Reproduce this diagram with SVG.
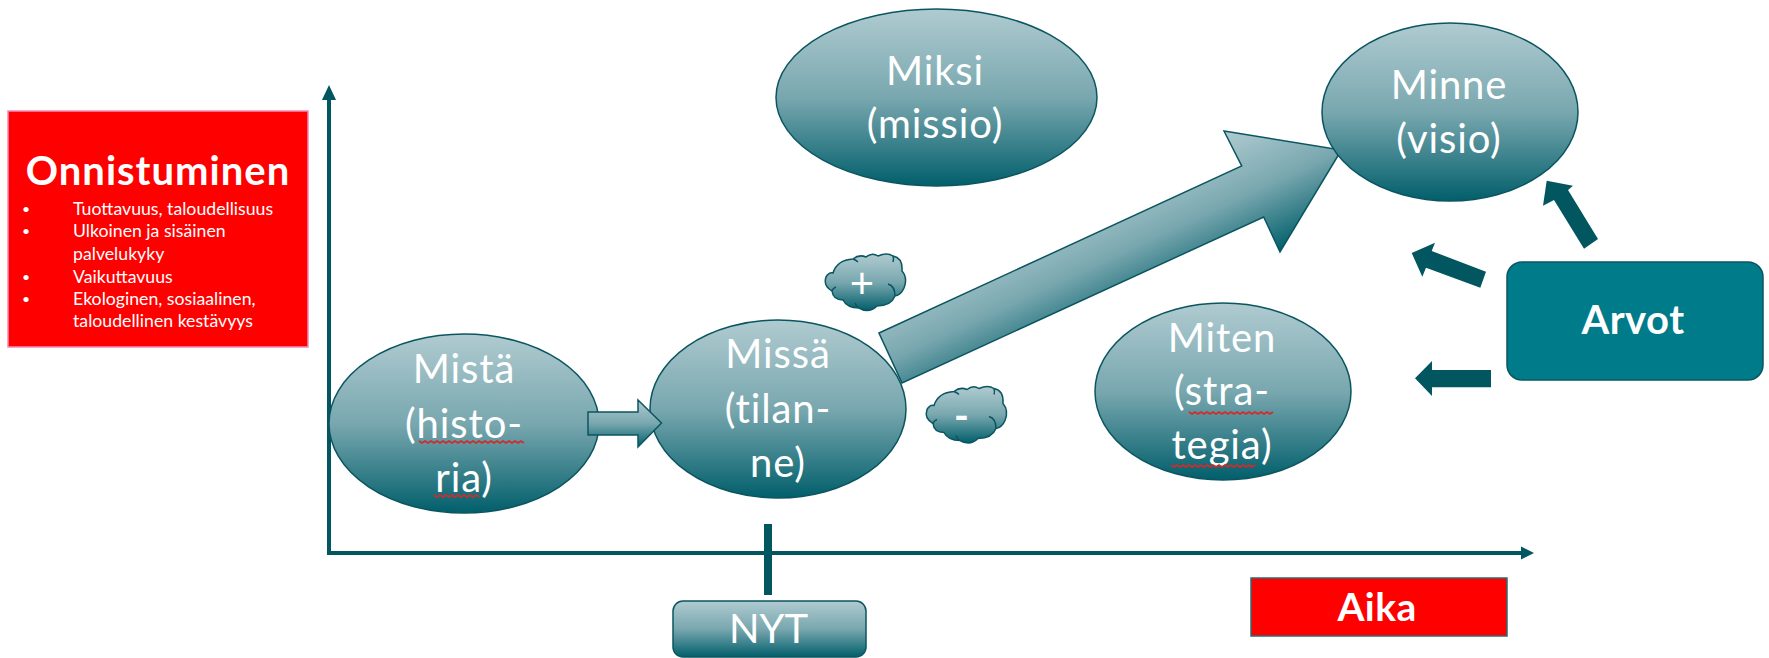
<svg xmlns="http://www.w3.org/2000/svg" width="1769" height="658" viewBox="0 0 1769 658">
<defs>
<linearGradient id="g" x1="0" y1="0" x2="0" y2="1"><stop offset="0" stop-color="#afcbd0"/><stop offset="0.5" stop-color="#79a7af"/><stop offset="1" stop-color="#015f6b"/></linearGradient>
<linearGradient id="gb" gradientUnits="userSpaceOnUse" x1="1224" y1="131" x2="1280" y2="252"><stop offset="0" stop-color="#afcbd0"/><stop offset="0.5" stop-color="#79a7af"/><stop offset="1" stop-color="#015f6b"/></linearGradient>
<g id="cloud"><path d="M1 23Q4 18 8 19Q12 6 28 5Q34 0 41 3Q47 -2 53 2Q62 -2 68 2Q78 4 77 17Q83 24 79 34Q76 41 70 42Q66 52 52 52Q44 60 34 54Q22 54 18 46Q8 46 7 37Q-2 32 1 23Z"/><path fill="none" d="M63 30Q70 32 70 42M7 37Q8 34 11 33M34 54Q31 52 30 49M68 2Q69 5 68 8M28 5Q31 6 33 8"/></g>
</defs>
<style>
.sh{fill:url(#g);stroke:#0b5560;stroke-width:1.5}
.t{font-family:Lato,"Liberation Sans",sans-serif;fill:#fff;text-anchor:middle}
.big{font-size:40px;letter-spacing:.9px}
.dark{fill:#02565f}
.ax{stroke:#02565f;stroke-width:4;fill:none}
.sq{stroke:#d42a2a;stroke-width:1.8;fill:none}
.wh{font-family:Lato,"Liberation Sans",sans-serif;fill:#fff;font-size:17.7px}
.bu{font-family:Lato,"Liberation Sans",sans-serif;fill:#fff;font-size:14px}
</style>
<rect width="1769" height="658" fill="#fff"/>
<g id="connectors">
<path class="ax" d="M329 98V553H1525"/>
<path class="dark" d="M329 85L336 100H322Z"/>
<path class="dark" d="M1534 553L1521 546.500V559.500Z"/>
<rect class="dark" x="764" y="524" width="8" height="71"/>
<path class="dark" d="M1546.700 180.700L1573 185.700L1568 190L1598 239L1584 248.700L1554 200L1543 205.700Z"/>
<path class="dark" d="M1411.700 253L1435 242.700L1431.700 251L1486 271.700L1480.300 287.700L1426 267.700L1422.300 276.700Z"/>
<path class="dark" d="M1415 378.300L1432 361V370H1491V387.300H1432V396Z"/>
</g>
<g id="onnistuminen">
<rect x="8" y="111" width="300" height="236" fill="#ff0000" stroke="#f08cb4" stroke-width="1.500"/>
<text x="158" y="185" class="t" font-weight="700" font-size="40" letter-spacing="1">Onnistuminen</text>
<text class="bu" x="22" y="214">•</text><text class="wh" x="73" y="215">Tuottavuus, taloudellisuus</text>
<text class="bu" x="22" y="236">•</text><text class="wh" x="73" y="237">Ulkoinen ja sisäinen</text>
<text class="wh" x="73" y="260">palvelukyky</text>
<text class="bu" x="22" y="282">•</text><text class="wh" x="73" y="283">Vaikuttavuus</text>
<text class="bu" x="22" y="304">•</text><text class="wh" x="73" y="305">Ekologinen, sosiaalinen,</text>
<text class="wh" x="73" y="327">taloudellinen kestävyys</text>
</g>
<g id="mista">
<ellipse class="sh" cx="464" cy="423.500" rx="135" ry="89.500"/>
<text class="t big" x="464" y="383">Mistä</text>
<text class="t big" x="464" y="438">(histo-</text>
<text class="t big" x="464" y="492">ria)</text>
<path class="sq" d="M419 441l3 2l3 -2l3 2l3 -2l3 2l3 -2l3 2l3 -2l3 2l3 -2l3 2l3 -2l3 2l3 -2l3 2l3 -2l3 2l3 -2l3 2l3 -2l3 2l3 -2l3 2l3 -2l3 2l3 -2l3 2l3 -2l3 2l3 -2l3 2l3 -2l3 2l3 -2l3 2"/>
<path class="sq" d="M434 495l3 2l3 -2l3 2l3 -2l3 2l3 -2l3 2l3 -2l3 2l3 -2l3 2l3 -2l3 2l3 -2l3 2"/>
</g>
<g id="missa">
<ellipse class="sh" cx="778" cy="409" rx="128" ry="89"/>
<text class="t big" x="778" y="368">Missä</text>
<text class="t big" x="778" y="423">(tilan-</text>
<text class="t big" x="778" y="477">ne)</text>
</g>
<g id="arrow-small"><path class="sh" d="M588 412H638V400L661.500 423L638 447V435H588Z"/></g>
<g id="miksi">
<ellipse class="sh" cx="936.500" cy="97.500" rx="160.500" ry="88.500"/>
<text class="t big" x="935" y="85">Miksi</text>
<text class="t big" x="935" y="138">(missio)</text>
</g>
<g id="arrow-big"><path fill="url(#gb)" stroke="#0b5560" stroke-width="1.500" d="M879 333L1241.700 166L1224 131L1341.400 150L1280 252L1263.700 217L902 383Z"/></g>
<g id="minne">
<ellipse class="sh" cx="1450" cy="112" rx="128" ry="89"/>
<text class="t big" x="1449" y="99">Minne</text>
<text class="t big" x="1449" y="153">(visio)</text>
</g>
<g id="miten">
<ellipse class="sh" cx="1223" cy="391.500" rx="128" ry="88.500"/>
<text class="t big" x="1222" y="352">Miten</text>
<text class="t big" x="1222" y="405">(stra-</text>
<text class="t big" x="1222" y="459">tegia)</text>
<path class="sq" d="M1189 412l3 2l3 -2l3 2l3 -2l3 2l3 -2l3 2l3 -2l3 2l3 -2l3 2l3 -2l3 2l3 -2l3 2l3 -2l3 2l3 -2l3 2l3 -2l3 2l3 -2l3 2l3 -2l3 2l3 -2l3 2l3 -2"/>
<path class="sq" d="M1171 465l3 2l3 -2l3 2l3 -2l3 2l3 -2l3 2l3 -2l3 2l3 -2l3 2l3 -2l3 2l3 -2l3 2l3 -2l3 2l3 -2l3 2l3 -2l3 2l3 -2l3 2l3 -2l3 2l3 -2l3 2l3 -2"/>
</g>
<g id="plus">
<use href="#cloud" class="sh" transform="translate(825 254)"/>
<text class="t" font-size="42" x="862" y="298">+</text>
</g>
<g id="minus">
<use href="#cloud" class="sh" transform="translate(926 386.500)"/>
<text class="t" font-size="40" font-weight="700" x="961.500" y="430">-</text>
</g>
<g id="arvot">
<rect x="1507" y="262" width="256" height="118" rx="15" fill="#007b8a" stroke="#0b5560" stroke-width="1.500"/>
<text class="t" font-weight="700" font-size="40" letter-spacing=".5" x="1633" y="334">Arvot</text>
</g>
<g id="nyt">
<rect class="sh" x="673" y="601" width="193" height="56" rx="10"/>
<text class="t big" style="letter-spacing:0" font-size="37.500" x="768.500" y="643">NYT</text>
</g>
<g id="aika">
<rect x="1251" y="578" width="256" height="58" fill="#ff0000" stroke="#2f6a72" stroke-width="1.500"/>
<text class="t" font-weight="700" font-size="39" letter-spacing=".4" x="1377" y="621">Aika</text>
</g>
</svg>
